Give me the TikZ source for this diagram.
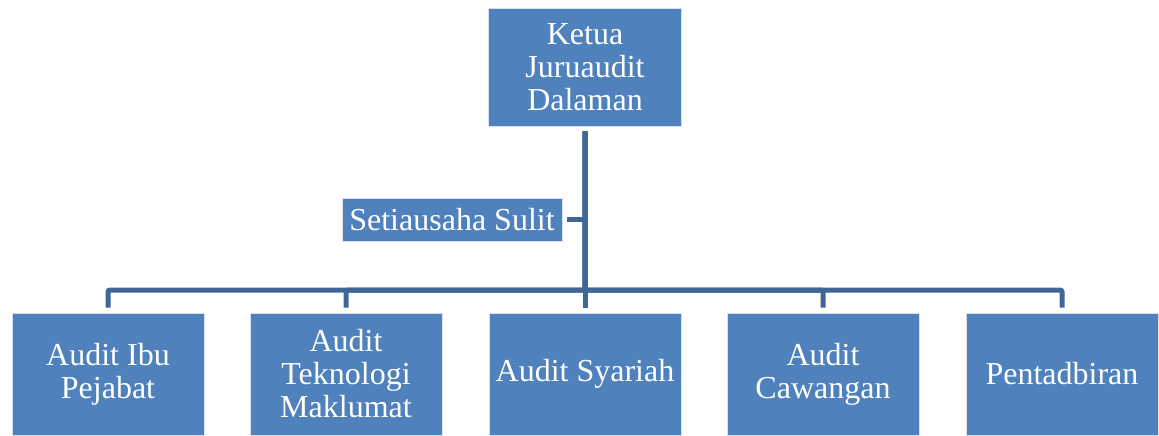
\documentclass[tikz,border=0pt]{standalone}
\usepackage{fontspec}
\setmainfont{Liberation Serif}
\definecolor{boxfill}{RGB}{79,129,189}
\definecolor{boxline}{RGB}{214,224,238}
\definecolor{connc}{RGB}{64,102,152}
\begin{document}
\begin{tikzpicture}[x=1pt,y=-1pt,
  box/.style={draw=boxline,line width=0.8pt,fill=boxfill,text=white,align=center,
    inner sep=0pt,font=\fontsize{32pt}{33pt}\selectfont},
  unitbox/.style={box,minimum width=192pt,minimum height=122pt},
  conn/.style={draw=connc,line width=5pt,rounded corners=2pt}]
\useasboundingbox (0,0) rectangle (1159,436);
\node[box,minimum width=193pt,minimum height=118pt] (top) at (585,67) {Ketua\\Juruaudit\\Dalaman};
\node[box,minimum width=220pt,minimum height=43pt] (sec) at (452,219.5) {Setiausaha Sulit};
\node[unitbox] (c1) at (108,374) {Audit Ibu\\Pejabat};
\node[unitbox] (c2) at (346,374) {Audit\\Teknologi\\Maklumat};
\node[unitbox] (c3) at (585,374) {Audit Syariah};
\node[unitbox] (c4) at (823,374) {Audit\\Cawangan};
\node[unitbox] (c5) at (1062,374) {Pentadbiran};
\coordinate (hub) at (585,290);
\foreach \c in {c1,c2,c3,c4,c5}{
  \draw[conn,shorten >=5pt,shorten <=5pt] (top.south) -- (hub) -| (\c.north);
}
\draw[conn,shorten <=5pt] (sec.east) -- (sec.east -| top.south);
\end{tikzpicture}
\end{document}
